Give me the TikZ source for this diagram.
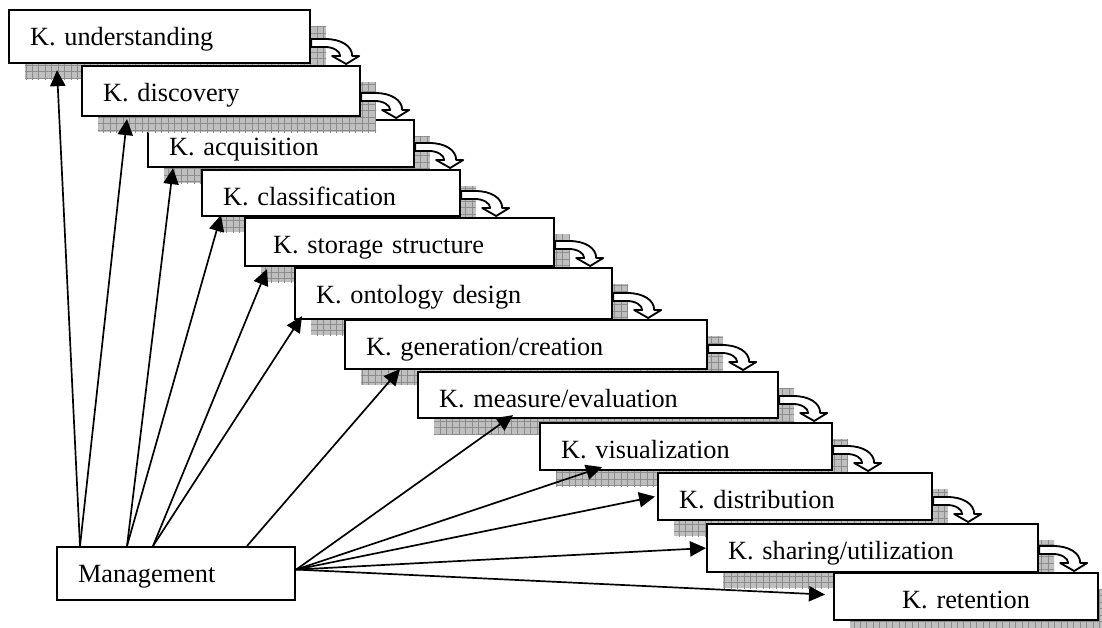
\documentclass[tikz,border=0pt]{standalone}
\usepackage{fontspec}
\setmainfont{Liberation Serif}
\usetikzlibrary{arrows.meta,calc,patterns.meta}

\tikzset{
  kbox/.style={draw, line width=1.5pt, fill=white, anchor=north west, align=left,
    inner xsep=0.525cm, inner ysep=0pt, text height=0.875cm, text depth=0.325cm,
    preaction={fill=gray!50, transform canvas={shift={(16,-16)}}},
    preaction={pattern={Hatch[angle=0,distance=4.6pt,line width=0.5pt]},
      pattern color=gray!90, transform canvas={shift={(16,-16)}}}},
  plainbox/.style={draw, line width=1.5pt, fill=white, anchor=north west, align=left,
    inner xsep=0.525cm, inner ysep=0pt, text height=0.875cm, text depth=0.45cm},
  mgarrow/.style={line width=1.2pt, -{Triangle[length=0.4cm,width=0.38cm]}},
  bendarrow/.style={draw, fill=white, line width=1.3pt, line join=round}
}

\begin{document}
\begin{tikzpicture}[x=0.025cm, y=0.025cm, font=\fontsize{18.7}{22}\selectfont]
\useasboundingbox (0,0) rectangle (1102,-628);

% the steps, top left down to bottom right
\node[kbox, text width=6.475cm, text depth=0.45cm] (und) at (8,-9) {K. understanding};
\node[kbox, text width=5.6cm, text depth=0.3cm] (acq) at (147,-119) {K. acquisition};
\node[kbox, text width=5.9cm, text depth=0.375cm] (dis) at (81,-65) {K. discovery};
\node[kbox, text width=5.4cm, text depth=0.275cm] (cla) at (201,-169) {K. classification};
\node[kbox, text width=6.675cm] (sto) at (244,-217) {\hspace{0.175cm}K. storage structure};
\node[kbox, text width=6.875cm, text depth=0.4cm] (ont) at (294,-267) {K. ontology design};
\node[kbox, text width=8cm, text depth=0.35cm] (gen) at (344,-319) {K. generation/creation};
\node[kbox, text width=7.95cm, text depth=0.275cm] (mea) at (417,-371) {K. measure/evaluation};
\node[kbox, text width=6.25cm, text depth=0.3cm] (vis) at (539,-422) {K. visualization};
\node[kbox, text width=5.8cm, text depth=0.3cm] (dst) at (657,-472) {K. distribution};
\node[kbox, text width=7.225cm] (sha) at (706,-523) {K. sharing/utilization};
\node[kbox, text width=5.55cm, text depth=0.3cm, align=center] (ret) at (833,-572) {K. retention};

\node[plainbox, text width=4.9cm] (mgmt) at (56,-546) {Management};

% hollow bent arrows from one step to the next
\foreach \a/\b in {und/dis,dis/acq,acq/cla,cla/sto,sto/ont,ont/gen,gen/mea,mea/vis,vis/dst,dst/sha,sha/ret}
  \draw[bendarrow, shift={(\a.east |- \b.north)}]
    (0,26) -- (14,26) .. controls (30,26) and (41,19) .. (41,9)
    -- (48,9) -- (35,1) -- (21,9) -- (29,9)
    .. controls (29,14) and (22,18) .. (14,18) -- (0,18) -- cycle;

% management arrows
\coordinate (m1) at ($(mgmt.north west)+(24,0)$);
\coordinate (m2) at ($(mgmt.north west)+(71,0)$);
\coordinate (m3) at ($(mgmt.north west)+(97,0)$);
\coordinate (m4) at ($(mgmt.north west)+(191,0)$);
\coordinate (m5) at ($(mgmt.east)+(0,4)$);

\draw[mgarrow] (m1) -- ($(und.south west)+(49,-6)$);
\draw[mgarrow] (m1) -- ($(dis.south west)+(46,-2)$);
\draw[mgarrow] (m2) -- ($(acq.south west)+(26,0)$);
\draw[mgarrow] (m2) -- ($(cla.south west)+(20,2)$);
\draw[mgarrow] (m3) -- ($(sto.south west)+(23,-2)$);
\draw[mgarrow] (m3) -- ($(ont.south west)+(8,4)$);
\draw[mgarrow] (m4) -- ($(gen.south west)+(56,1)$);
\draw[mgarrow] (m5) -- ($(mea.south west)+(96,4)$);
\draw[mgarrow] (m5) -- ($(vis.south west)+(63,4)$);
\draw[mgarrow] (m5) -- ($(dst.west)+(-2,0)$);
\draw[mgarrow] (m5) -- (sha.west);
\draw[mgarrow] (m5) -- ($(ret.west)+(-8,2)$);
\end{tikzpicture}
\end{document}
